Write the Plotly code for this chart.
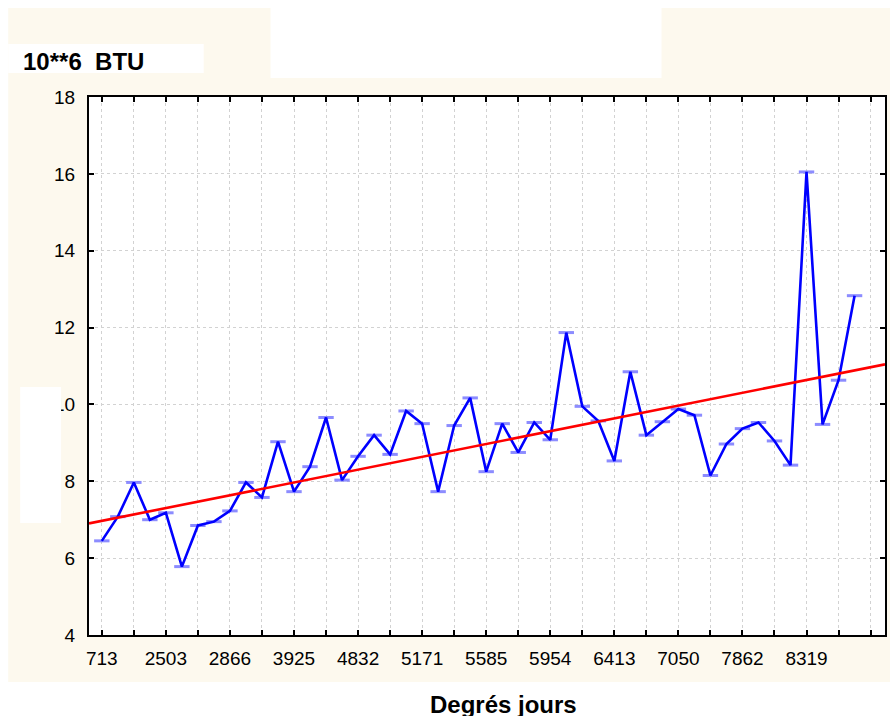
import numpy as np
import plotly.graph_objects as go

# ---- data ----
energy_btu = [6.45, 7.08, 7.97, 7.00, 7.18, 5.78, 6.85, 6.95, 7.23, 7.97, 7.58, 9.03,
              7.73, 8.38, 9.66, 8.03, 8.65, 9.20, 8.70, 9.83, 9.50, 7.73, 9.45, 10.17,
              8.25, 9.50, 8.75, 9.53, 9.08, 11.87, 9.95, 9.57, 8.53, 10.85, 9.20, 9.55,
              9.88, 9.72, 8.15, 8.97, 9.37, 9.53, 9.05, 8.42, 16.05, 9.48, 10.63, 12.83]
x_tick_labels = ["713", "2503", "2866", "3925", "4832", "5171", "5585",
                 "5954", "6413", "7050", "7862", "8319"]
label_every = 4
tick_every = 2
trend_intercept = 6.97
trend_slope = 0.0833
y_title = "10**6  BTU"
x_title = "Degrés jours"

# ---- geometry ----
W, H = 892, 716
PL, PR, PT, PB = 89, 887, 97, 635
x_range = [-0.8, 48.9]
y_range = [4, 18]

def px(x):
    return (x - PL) / (PR - PL)

def py(y):
    return (PB - y) / (PB - PT)

idx = np.arange(len(energy_btu))
tickvals = list(range(0, 49, tick_every))
ticktext = []
for t in tickvals:
    k = t // label_every
    if t % label_every == 0 and k < len(x_tick_labels):
        ticktext.append(x_tick_labels[k])
    else:
        ticktext.append("")

trend_x = np.linspace(x_range[0], x_range[1], 50)
trend_y = trend_intercept + trend_slope * trend_x

fig = go.Figure()
fig.add_trace(go.Scatter(
    x=idx, y=energy_btu, mode="markers",
    marker=dict(symbol="line-ew", size=11,
                line=dict(width=3, color="rgba(120,120,255,0.85)")),
    hoverinfo="skip", showlegend=False))
fig.add_trace(go.Scatter(
    x=idx, y=energy_btu, mode="lines",
    line=dict(color="#0000ff", width=2.6), showlegend=False))
fig.add_trace(go.Scatter(
    x=trend_x, y=trend_y, mode="lines",
    line=dict(color="#ff0000", width=2.6), showlegend=False))

cream = "#fdf9ee"
shapes = []
def rect(x0, y0, x1, y1, color, layer="below"):
    shapes.append(dict(type="rect", xref="paper", yref="paper",
                       x0=px(x0), x1=px(x1), y0=py(y1), y1=py(y0),
                       fillcolor=color, line=dict(width=0), layer=layer))

rect(8, 78, PL - 1, 682, cream)
rect(PR + 1, 78, W, 682, cream)
rect(PL - 1, 78, PR + 1, PT - 1, cream)
rect(PL - 1, PB + 1, PR + 1, 682, cream)
rect(8, 8, 271, 78, cream)
rect(663, 8, W, 78, cream)
rect(8, 44, 204, 73, "white")
rect(20, 387, 61, 523, "white", layer="above")

font = "Liberation Sans, Arial, sans-serif"
grid_col = "#d2d2d2"
fig.update_layout(
    width=W, height=H,
    margin=dict(l=PL, r=W - PR, t=PT, b=H - PB, pad=0),
    paper_bgcolor="white", plot_bgcolor="white",
    shapes=shapes,
    font=dict(family=font, size=19, color="black"),
    xaxis=dict(range=x_range, tickmode="array", tickvals=tickvals, ticktext=ticktext,
               showgrid=True, gridcolor=grid_col, griddash="dot", gridwidth=1,
               showline=True, linecolor="black", linewidth=2, mirror="ticks",
               ticks="inside", ticklen=5, tickwidth=2, tickcolor="black",
               ticklabelstandoff=5, zeroline=False,
               tickfont=dict(size=19, family=font)),
    yaxis=dict(range=y_range, dtick=2, tick0=4,
               showgrid=True, gridcolor=grid_col, griddash="dot", gridwidth=1,
               showline=True, linecolor="black", linewidth=2, mirror="ticks",
               ticks="inside", ticklen=5, tickwidth=2, tickcolor="black",
               ticklabelstandoff=8, zeroline=False,
               tickfont=dict(size=19, family=font)),
    annotations=[
        dict(text="<b>" + y_title + "</b>", xref="paper", yref="paper",
             x=px(21), y=py(61), xanchor="left", yanchor="middle",
             showarrow=False, font=dict(size=24, family=font)),
        dict(text="<b>" + x_title + "</b>", xref="paper", yref="paper",
             x=px(505), y=py(704), xanchor="center", yanchor="middle",
             showarrow=False, font=dict(size=24, family=font)),
    ],
)

fig.write_html("out.html", config={"displayModeBar": False},
               post_script="document.body.style.margin='0';document.body.style.overflow='hidden';")
